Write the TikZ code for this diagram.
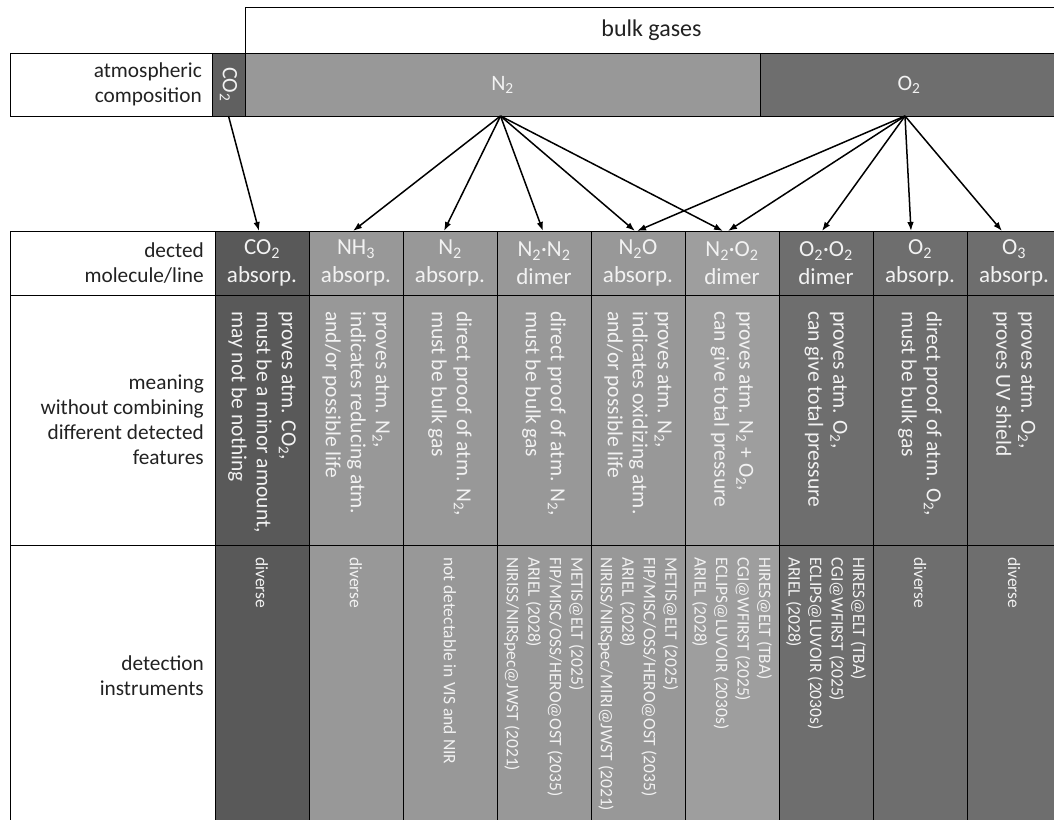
\documentclass[tikz,border=0pt]{standalone}
\usepackage{fontspec}
\setmainfont{Carlito}
\usetikzlibrary{positioning,arrows.meta}
\definecolor{co2gas}{HTML}{606060}
\definecolor{darkgas}{HTML}{595959}
\definecolor{midgas}{HTML}{989898}
\definecolor{lightgas}{HTML}{9E9E9E}
\definecolor{o2gas}{HTML}{6E6E6E}
\definecolor{textgrey}{HTML}{F2F2F2}
\definecolor{labelgrey}{HTML}{222222}
\begin{document}
\begin{tikzpicture}[x=1pt,y=-1pt,node distance=94pt]
	\useasboundingbox (0,0) rectangle (1054,819);
	\tikzstyle{cell}=[rectangle,draw=black,line width=1pt,inner sep=0pt,outer sep=0pt]
	\tikzstyle{head}=[cell,minimum width=94pt,minimum height=64pt,text=textgrey,align=center,font=\fontsize{23}{28}\selectfont]
	\tikzstyle{mean}=[cell,minimum width=94pt,minimum height=250pt]
	\tikzstyle{inst}=[cell,minimum width=94pt,minimum height=285pt]
	\tikzstyle{mtext}=[rotate=-90,anchor=west,inner sep=0pt,align=left,text=textgrey,font=\fontsize{21.5}{25}\selectfont]
	\tikzstyle{itext}=[mtext,font=\fontsize{17.5}{21.5}\selectfont]
	\tikzstyle{rowlabel}=[anchor=east,inner sep=0pt,align=right,text=labelgrey,font=\fontsize{21.3}{25}\selectfont]
	\tikzstyle{gas}=[cell,minimum height=63pt,text=textgrey,font=\fontsize{22}{26}\selectfont]

	% atmospheric composition
	\node[gas, fill=co2gas, minimum width=33pt] 		(co2) at (228.5,84.5) {};
	\node[rotate=-90, inner sep=0pt, text=textgrey, font=\fontsize{22}{26}\selectfont] (co2txt) at (co2) {CO\textsubscript{2}};
	\node[gas, fill=midgas, minimum width=515pt, right=0pt of co2] 	(n2) {N\textsubscript{2}};
	\node[gas, fill=o2gas, minimum width=298pt, right=0pt of n2] 	(o2) {O\textsubscript{2}};
	\node[cell, minimum width=202pt, minimum height=63pt, left=0pt of co2] 	(cComp) {};
	\node[rowlabel] (lComp) at ([xshift=-10pt]cComp.east) {atmospheric\\composition};
	\node[cell, anchor=south west, minimum width=813pt, minimum height=46pt, text=labelgrey, font=\fontsize{24}{28}\selectfont] (bulk) at (n2.north west) {bulk gases};

	% detected molecules
	\node[head, fill=darkgas] 			(hCO2) at (262,263) {CO\textsubscript{2}\\absorp.};
	\node[head, fill=midgas, right of=hCO2] 	(hNH3) {NH\textsubscript{3}\\absorp.};
	\node[head, fill=midgas, right of=hNH3] 	(hN2) {N\textsubscript{2}\\absorp.};
	\node[head, fill=midgas, right of=hN2] 	(hNN) {N\textsubscript{2}·N\textsubscript{2}\\dimer};
	\node[head, fill=midgas, right of=hNN] 	(hNO) {N\textsubscript{2}O\\absorp.};
	\node[head, fill=lightgas, right of=hNO] 	(hNO2) {N\textsubscript{2}·O\textsubscript{2}\\dimer};
	\node[head, fill=o2gas, right of=hNO2] 	(hOO) {O\textsubscript{2}·O\textsubscript{2}\\dimer};
	\node[head, fill=o2gas, right of=hOO] 	(hO2) {O\textsubscript{2}\\absorp.};
	\node[head, fill=o2gas, right of=hO2] 	(hO3) {O\textsubscript{3}\\absorp.};

	% meaning
	\node[mean, fill=darkgas, below=0pt of hCO2] 	(mCO2) {};
	\node[mean, fill=midgas, below=0pt of hNH3] 	(mNH3) {};
	\node[mean, fill=midgas, below=0pt of hN2] 	(mN2) {};
	\node[mean, fill=midgas, below=0pt of hNN] 	(mNN) {};
	\node[mean, fill=midgas, below=0pt of hNO] 	(mNO) {};
	\node[mean, fill=lightgas, below=0pt of hNO2] 	(mNO2) {};
	\node[mean, fill=o2gas, below=0pt of hOO] 	(mOO) {};
	\node[mean, fill=o2gas, below=0pt of hO2] 	(mO2) {};
	\node[mean, fill=o2gas, below=0pt of hO3] 	(mO3) {};

	\node[mtext] (tCO2) at ([yshift=-16pt]mCO2.north) {proves atm. CO\textsubscript{2},\\must be a minor amount,\\may not be nothing};
	\node[mtext] (tNH3) at ([yshift=-16pt]mNH3.north) {proves atm. N\textsubscript{2},\\indicates reducing atm.\\and/or possible life};
	\node[mtext] (tN2) at ([yshift=-16pt]mN2.north) {direct proof of atm. N\textsubscript{2},\\must be bulk gas};
	\node[mtext] (tNN) at ([yshift=-16pt]mNN.north) {direct proof of atm. N\textsubscript{2},\\must be bulk gas};
	\node[mtext] (tNO) at ([yshift=-16pt]mNO.north) {proves atm. N\textsubscript{2},\\indicates oxidizing atm.\\and/or possible life};
	\node[mtext] (tNO2) at ([yshift=-16pt]mNO2.north) {proves atm. N\textsubscript{2} + O\textsubscript{2},\\can give total pressure};
	\node[mtext] (tOO) at ([yshift=-16pt]mOO.north) {proves atm. O\textsubscript{2},\\can give total pressure};
	\node[mtext] (tO2) at ([yshift=-16pt]mO2.north) {direct proof of atm. O\textsubscript{2},\\must be bulk gas};
	\node[mtext] (tO3) at ([yshift=-16pt]mO3.north) {proves atm. O\textsubscript{2},\\proves UV shield};

	% detection instruments
	\node[inst, fill=darkgas, below=0pt of mCO2] 	(iCO2) {};
	\node[inst, fill=midgas, below=0pt of mNH3] 	(iNH3) {};
	\node[inst, fill=midgas, below=0pt of mN2] 	(iN2) {};
	\node[inst, fill=midgas, below=0pt of mNN] 	(iNN) {};
	\node[inst, fill=midgas, below=0pt of mNO] 	(iNO) {};
	\node[inst, fill=lightgas, below=0pt of mNO2] 	(iNO2) {};
	\node[inst, fill=o2gas, below=0pt of mOO] 	(iOO) {};
	\node[inst, fill=o2gas, below=0pt of mO2] 	(iO2) {};
	\node[inst, fill=o2gas, below=0pt of mO3] 	(iO3) {};

	\node[itext] (uCO2) at ([yshift=-12pt]iCO2.north) {diverse};
	\node[itext] (uNH3) at ([yshift=-12pt]iNH3.north) {diverse};
	\node[itext] (uN2) at ([yshift=-12pt]iN2.north) {not detectable in VIS and NIR};
	\node[itext] (uNN) at ([yshift=-12pt]iNN.north) {METIS@ELT (2025)\\FIP/MISC/OSS/HERO@OST (2035)\\ARIEL (2028)\\NIRISS/NIRSpec@JWST (2021)};
	\node[itext] (uNO) at ([yshift=-12pt]iNO.north) {METIS@ELT (2025)\\FIP/MISC/OSS/HERO@OST (2035)\\ARIEL (2028)\\NIRISS/NIRSpec/MIRI@JWST (2021)};
	\node[itext] (uNO2) at ([yshift=-12pt]iNO2.north) {HIRES@ELT (TBA)\\CGI@WFIRST (2025)\\ECLIPS@LUVOIR (2030s)\\ARIEL (2028)};
	\node[itext] (uOO) at ([yshift=-12pt]iOO.north) {HIRES@ELT (TBA)\\CGI@WFIRST (2025)\\ECLIPS@LUVOIR (2030s)\\ARIEL (2028)};
	\node[itext] (uO2) at ([yshift=-12pt]iO2.north) {diverse};
	\node[itext] (uO3) at ([yshift=-12pt]iO3.north) {diverse};

	% row labels
	\node[cell, minimum width=205pt, minimum height=64pt, left=0pt of hCO2] 	(cMol) {};
	\node[cell, minimum width=205pt, minimum height=250pt, left=0pt of mCO2] 	(cMean) {};
	\node[cell, minimum width=205pt, minimum height=285pt, left=0pt of iCO2] 	(cInst) {};
	\node[rowlabel] (lMol) at ([xshift=-11pt]cMol.east) {dected\\molecule/line};
	\node[rowlabel] (lMean) at ([xshift=-11pt]cMean.east) {meaning\\without combining\\different detected\\features};
	\node[rowlabel] (lInst) at ([xshift=-11pt,yshift=12pt]cInst.east) {detection\\instruments};

	\begin{scope}[->, >={Latex[length=9pt,width=6.5pt]}, line width=1.5pt]
		\draw	(co2.south) -- ([xshift=-3pt]hCO2.north);
		\draw	([xshift=-2pt]n2.south) -- ([xshift=-3pt]hNH3.north);
		\draw	([xshift=-2pt]n2.south) -- ([xshift=-6pt]hN2.north);
		\draw	([xshift=-2pt]n2.south) -- ([xshift=-1pt]hNN.north);
		\draw	([xshift=-2pt]n2.south) -- ([xshift=-3pt]hNO.north);
		\draw	([xshift=-2pt]n2.south) -- ([xshift=-9pt]hNO2.north);
		\draw	([xshift=-4pt]o2.south) -- ([xshift=-1pt]hNO.north);
		\draw	([xshift=-4pt]o2.south) -- ([xshift=-4pt]hNO2.north);
		\draw	([xshift=-4pt]o2.south) -- ([xshift=-4pt]hOO.north);
		\draw	([xshift=-4pt]o2.south) -- ([xshift=-9pt]hO2.north);
		\draw	([xshift=-4pt]o2.south) -- ([xshift=-12pt]hO3.north);
	\end{scope}
\end{tikzpicture}
\end{document}
